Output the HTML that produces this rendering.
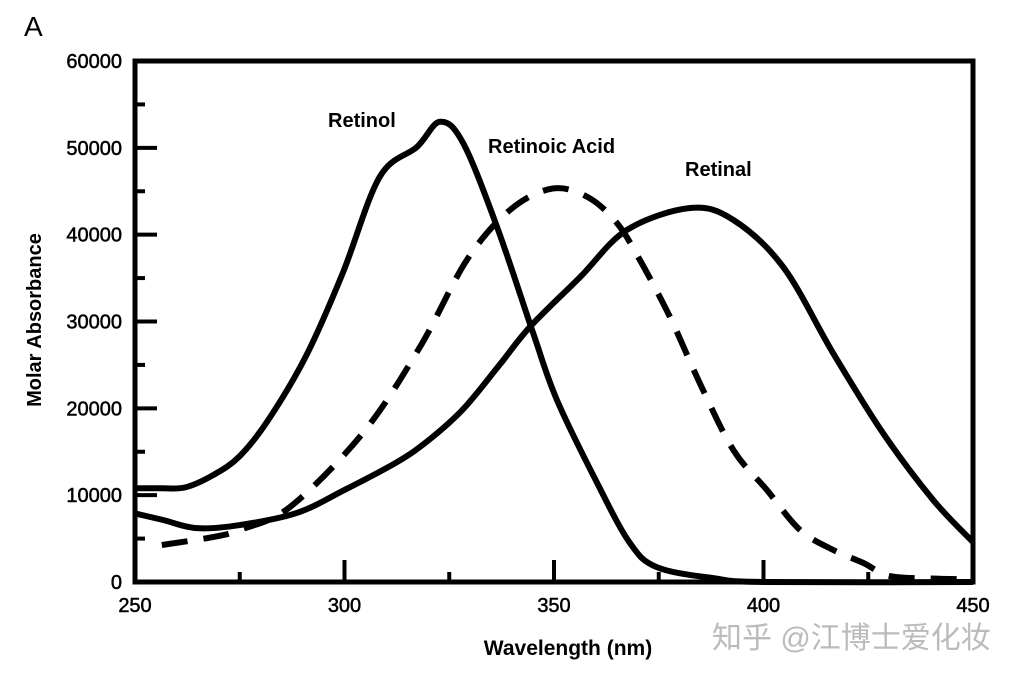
<!DOCTYPE html>
<html><head><meta charset="utf-8"><style>
html,body{margin:0;padding:0;background:#fff;}
svg{display:block;font-family:"Liberation Sans",Arial,sans-serif;}
</style></head><body>
<svg id="chart" width="1014" height="680" viewBox="0 0 1014 680">
<text x="24" y="36" font-size="28">A</text>
<g id="axes"></g>
<g id="series"></g>
<text x="328" y="127" font-size="20" font-weight="bold">Retinol</text>
<text x="488" y="153" font-size="20" font-weight="bold">Retinoic Acid</text>
<text x="685" y="176" font-size="20" font-weight="bold">Retinal</text>
<text x="568" y="655" font-size="21" font-weight="bold" text-anchor="middle">Wavelength (nm)</text>
<text transform="translate(41,320) rotate(-90)" font-size="20" font-weight="bold" text-anchor="middle">Molar Absorbance</text>
<text x="712" y="648" font-size="30" fill="#bbb" font-family="'Liberation Sans','Noto Sans CJK SC',sans-serif">知乎 @江博士爱化妆</text>
</svg>
<script>
const xTicks=[250,300,350,400,450];
const yTicks=[0,10000,20000,30000,40000,50000,60000];
const retinolX=[250,256,262,268.6,275,282,291,299.6,308.4,317.3,322.8,328.3,336.4,345,350.7,360.3,368.1,374.6,388,400,450];
const retinolY=[10800,10800,10900,12300,14500,18800,26200,35600,46650,50100,53000,50560,40900,28700,20960,11400,4500,1700,450,0,0];
const acidX=[256.4,268.6,275,287,304.4,318,329.2,339.5,349.5,358,365,370.5,377.7,384.8,392.8,400.8,408.7,416.6,423.8,430,440,450];
const acidY=[4260,5180,6000,8640,17160,27060,37080,42840,45300,44340,41350,37080,30500,22900,15200,10600,6000,3700,2200,700,400,300];
const retinalX=[250,256.7,264.8,275,288.6,300,312.5,320,328.3,337,344.3,356.2,367.4,382.5,392.8,404.7,416.6,428.5,440.5,450];
const retinalY=[7900,7140,6200,6560,7950,10600,13800,16300,19900,25000,29400,35100,40540,43070,41700,36280,26370,17160,9440,4600];

const X0=135,X1=973,Y0=582,Y1=61;
const sx=v=>X0+(v-250)/200*(X1-X0);
const sy=v=>Y0-(v/60000)*(Y0-Y1);
const NS="http://www.w3.org/2000/svg";
const axes=document.getElementById('axes'),series=document.getElementById('series');
function mk(tag,attrs,parent){const e=document.createElementNS(NS,tag);for(const k in attrs)e.setAttribute(k,attrs[k]);parent.appendChild(e);return e;}
const frame=mk('rect',{x:X0,y:Y1,width:X1-X0,height:Y0-Y1,fill:'none',stroke:'#000','stroke-width':5},axes);


for(let v=5000;v<60000;v+=5000){
  const major=v%10000===0;
  const t=mk('line',{x1:X0,x2:X0+(major?22:10),y1:sy(v),y2:sy(v),stroke:'#000','stroke-width':4},axes);
  
  
}
for(let v=275;v<450;v+=25){
  const major=v%50===0;
  const t=mk('line',{x1:sx(v),x2:sx(v),y1:Y0,y2:Y0-(major?22:10),stroke:'#000','stroke-width':4},axes);
  
  
}
yTicks.forEach(v=>{
  const t=mk('text',{x:X0-13,y:sy(v)+7,'font-size':20,'text-anchor':'end',stroke:'#000','stroke-width':0.5},axes);
  t.textContent=v;
  
  
});
xTicks.forEach(v=>{
  const t=mk('text',{x:sx(v),y:Y0+30,'font-size':20,'text-anchor':'middle',stroke:'#000','stroke-width':0.5},axes);
  t.textContent=v;
  
  
});
function path(xs,ys){
  const p=xs.map((x,i)=>[sx(x),sy(ys[i])]);
  let d='M'+p[0][0]+','+p[0][1];
  for(let i=0;i<p.length-1;i++){
    const a=p[Math.max(i-1,0)],b=p[i],c=p[i+1],e=p[Math.min(i+2,p.length-1)];
    d+=' C'+(b[0]+(c[0]-a[0])/6)+','+(b[1]+(c[1]-a[1])/6)+' '+(c[0]-(e[0]-b[0])/6)+','+(c[1]-(e[1]-b[1])/6)+' '+c[0]+','+c[1];
  }
  return d;
}
const l1=mk('path',{d:path(retinolX,retinolY),fill:'none',stroke:'#000','stroke-width':6,'stroke-linejoin':'round'},series);


const l2=mk('path',{d:path(acidX,acidY),fill:'none',stroke:'#000','stroke-width':6,'stroke-dasharray':'26,16'},series);


const l3=mk('path',{d:path(retinalX,retinalY),fill:'none',stroke:'#000','stroke-width':6,'stroke-linejoin':'round'},series);


</script>
</body></html>
